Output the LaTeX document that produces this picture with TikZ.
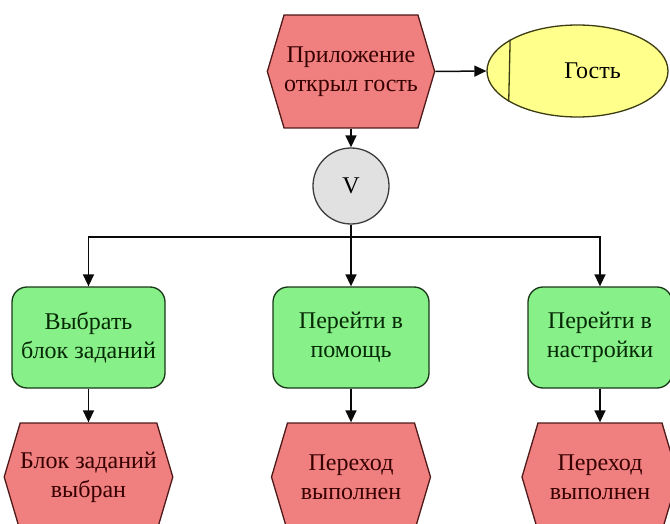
\documentclass[tikz,border=0pt]{standalone}
\usepackage{fontspec}
\setmainfont{Liberation Serif}
\usetikzlibrary{shapes.symbols,shapes.geometric,arrows.meta}
\definecolor{hexfill}{RGB}{240,128,128}
\definecolor{hexline}{RGB}{80,25,25}
\definecolor{hextext}{RGB}{55,0,0}
\definecolor{fnfill}{RGB}{136,240,136}
\definecolor{fnline}{RGB}{25,55,25}
\definecolor{fntext}{RGB}{5,40,5}
\definecolor{orgfill}{RGB}{255,255,140}
\definecolor{orgline}{RGB}{60,60,20}
\definecolor{xorfill}{RGB}{225,225,225}
\definecolor{xorline}{RGB}{60,60,60}
\definecolor{conn}{RGB}{10,10,10}
\begin{document}
\begin{tikzpicture}[x=1pt,y=-1pt,
  font=\fontsize{24}{29}\selectfont,
  evt/.style={shape=signal, signal to=west and east, signal pointer angle=147,
    draw=hexline, fill=hexfill, text=hextext, line width=1.3pt,
    minimum width=#1, minimum height=113pt, inner sep=0pt, align=center},
  fnbox/.style={shape=rectangle, rounded corners=15pt, draw=fnline, fill=fnfill,
    text=fntext, line width=1.3pt, minimum width=#1, minimum height=101pt,
    inner sep=0pt, align=center},
  orgbox/.style={shape=ellipse, draw=orgline, fill=orgfill, text=black,
    line width=1.3pt, minimum width=181pt, minimum height=92pt, inner sep=0pt},
  xorbox/.style={shape=circle, draw=xorline, fill=xorfill, text=black,
    line width=1.3pt, minimum size=76pt, inner sep=0pt},
  arr/.style={draw=conn, line width=1.5pt, -{Triangle[length=12pt,width=11pt]}},
  ln/.style={draw=conn, line width=1.5pt}
]
\useasboundingbox (0,0) rectangle (670,524);

\node[evt=163pt] (e1) at (351,71.5) {Приложение\\открыл гость};
\node[orgbox] (g) at (577.5,71) {\hspace*{30pt}Гость};
\draw[orgline, line width=1.3pt] (g.155.6) -- (g.204.4);
\node[xorbox] (x) at (351,186) {V};
\coordinate (sp) at (351,237);

\node[fnbox=153pt] (f1) at (88.5,337.5) {Выбрать\\блок заданий};
\node[fnbox=156pt] (f2) at (351,337.5) {Перейти в\\помощь};
\node[fnbox=144pt] (f3) at (600,337.5) {Перейти в\\настройки};

\node[evt=152pt, minimum height=108pt] (e2) at (88.5,477) {Блок заданий\\выбран};
\node[evt=159pt, minimum height=108pt] (e3) at (351,477) {Переход\\выполнен};
\node[evt=156pt, minimum height=108pt] (e4) at (600,477) {Переход\\выполнен};

\draw[arr] (e1.east) -- (g.west);
\draw[arr] (e1.south) -- (x.north);
\draw[ln] (x.south) -- (sp);
\draw[arr] (sp) -| (f1.north);
\draw[arr] (sp) -- (f2.north);
\draw[arr] (sp) -| (f3.north);
\draw[arr] (f1.south) -- (e2.north);
\draw[arr] (f2.south) -- (e3.north);
\draw[arr] (f3.south) -- (e4.north);
\end{tikzpicture}
\end{document}
